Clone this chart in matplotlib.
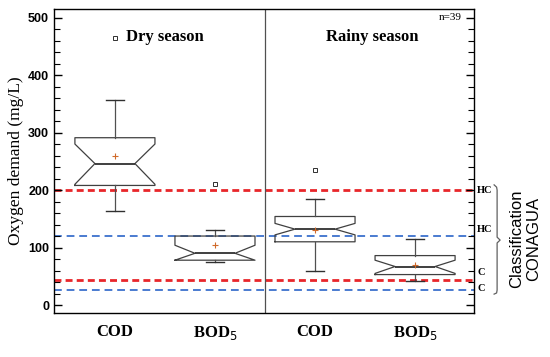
import matplotlib
matplotlib.use("Agg")
import matplotlib.pyplot as plt
from matplotlib.ticker import MultipleLocator

# Box statistics (mg/L)
labels = ["COD", "BOD$_5$", "COD", "BOD$_5$"]
positions = [1, 2, 3, 4]
q1 = [208, 78, 110, 53]
med = [246, 90, 132, 67]
q3 = [291, 120, 154, 86]
whislo = [163, 75, 60, 42]
whishi = [356, 131, 185, 115]
means = [260, 104, 130, 70]
cilo = [210, 78, 122, 55]
cihi = [280, 104, 142, 78]
fliers = [[464], [210], [235], []]

# CONAGUA classification thresholds
cod_limits = [200, 43]
bod_limits = [120, 26]
class_labels = ["HC", "HC", "C", "C"]
class_pos = [200, 132, 56, 28]

serif = ["Liberation Serif", "DejaVu Serif"]
sans = ["Liberation Sans", "DejaVu Sans"]
narrow = ["Liberation Sans Narrow", "Liberation Sans", "DejaVu Sans"]

stats = []
for i in range(4):
    stats.append(dict(med=med[i], q1=q1[i], q3=q3[i], whislo=whislo[i],
                      whishi=whishi[i], mean=means[i], fliers=fliers[i],
                      cilo=cilo[i], cihi=cihi[i]))

fig = plt.figure(figsize=(5.5, 3.57), dpi=100)
ax = fig.add_axes([0.098, 0.123, 0.764, 0.852])

for y in cod_limits:
    ax.axhline(y, color="#e8262a", lw=2.0, ls=(0, (2.5, 1.5)), zorder=1)
for y in bod_limits:
    ax.axhline(y, color="#4a7bd0", lw=1.4, ls=(0, (4, 2.5)), zorder=1)

ax.bxp(stats, positions=positions, widths=0.8, shownotches=True,
       showmeans=True, showfliers=True, patch_artist=False,
       boxprops=dict(color="#404040", lw=0.9),
       whiskerprops=dict(color="#505050", lw=0.9),
       capprops=dict(color="#303030", lw=1.0),
       medianprops=dict(color="#303030", lw=1.3),
       meanprops=dict(marker="+", markeredgecolor="#d06a2a", markersize=4,
                      markeredgewidth=0.8),
       flierprops=dict(marker="s", markersize=2.8, markerfacecolor="white",
                       markeredgecolor="#303030", markeredgewidth=0.7),
       capwidths=0.18)

ax.axvline(2.5, color="#505050", lw=0.9)

ax.set_xlim(0.39, 4.59)
ax.set_ylim(-14, 515)
ax.set_xticks(positions)
ax.set_xticklabels(labels, fontfamily=serif, fontweight="bold", fontsize=12)
ax.tick_params(axis="x", length=0, pad=8)

ax.yaxis.set_major_locator(MultipleLocator(100))
ax.yaxis.set_minor_locator(MultipleLocator(20))
ax.tick_params(axis="y", which="both", direction="in", right=True)
ax.tick_params(axis="y", which="major", length=6, width=1.0)
ax.tick_params(axis="y", which="minor", length=4, width=0.8)
for t in ax.get_yticklabels():
    t.set_fontfamily(narrow)
    t.set_fontweight("bold")
    t.set_fontsize(9)
ax.set_ylabel("Oxygen demand (mg/L)", fontfamily=serif, fontsize=12.5)
ax.yaxis.set_label_coords(-0.072, 0.5)

for s in ax.spines.values():
    s.set_linewidth(1.0)

ax.text(1.5, 466, "Dry season", ha="center", va="center", fontfamily=serif,
        fontweight="bold", fontsize=12)
ax.text(3.57, 466, "Rainy season", ha="center", va="center", fontfamily=serif,
        fontweight="bold", fontsize=12)
ax.text(4.47, 500, "n=39", ha="right", va="center", fontfamily=serif,
        fontsize=8)

for lab, y in zip(class_labels, class_pos):
    ax.text(4.62, y, lab, ha="left", va="center", fontfamily=serif,
            fontweight="bold", fontsize=7.5, clip_on=False)

# curly bracket grouping the classification labels
bx = [4.79, 4.815, 4.82, 4.82, 4.85, 4.82, 4.82, 4.815, 4.79]
by = [209, 205, 200, 118, 113, 108, 26, 21, 19]
ax.plot(bx, by, color="#606060", lw=0.9, clip_on=False)
ax.text(5.10, 115, "Classification\nCONAGUA", rotation=90, ha="center",
        va="center", fontfamily=sans, fontsize=12, linespacing=1.15,
        clip_on=False)

fig.savefig("out.png", dpi=100)
